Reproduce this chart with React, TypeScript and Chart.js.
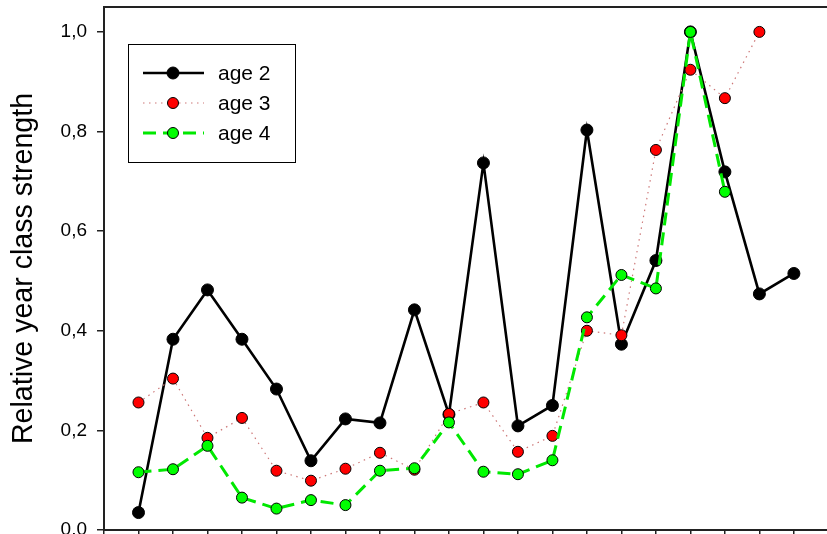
import React, { useEffect, useRef } from 'react';
import { Chart, registerables } from 'chart.js';

Chart.register(...registerables);

// ---- data ----
const xIndex = [1, 2, 3, 4, 5, 6, 7, 8, 9, 10, 11, 12, 13, 14, 15, 16, 17, 18, 19, 20];
const age2 = [0.035, 0.383, 0.482, 0.383, 0.283, 0.139, 0.223, 0.215, 0.442, 0.232, 0.737, 0.209, 0.25, 0.803, 0.373, 0.541, 1.0, 0.719, 0.474, 0.515];
const age3 = [0.256, 0.304, 0.185, 0.225, 0.119, 0.099, 0.123, 0.155, 0.121, 0.233, 0.256, 0.157, 0.189, 0.4, 0.391, 0.763, 0.924, 0.867, 1.0, null];
const age4 = [0.116, 0.122, 0.169, 0.065, 0.043, 0.06, 0.05, 0.119, 0.124, 0.216, 0.117, 0.112, 0.14, 0.427, 0.512, 0.485, 1.0, 0.679, null, null];
const seriesNames = ['age 2', 'age 3', 'age 4'];
const yTickValues = [0, 0.2, 0.4, 0.6, 0.8, 1.0];
const yTickLabels = ['0,0', '0,2', '0,4', '0,6', '0,8', '1,0'];
const xTickValues = [0, ...xIndex];
const yTitle = 'Relative year class strength';

const FONT = "'Liberation Sans', Arial, Helvetica, sans-serif";

function toPoints(vals: (number | null)[]) {
  return xIndex
    .map((x, i) => ({ x, y: vals[i] }))
    .filter((p) => p.y !== null && p.y !== undefined) as { x: number; y: number }[];
}

const framePlugin = {
  id: 'frameAndLegend',
  afterDraw(chart: any) {
    const { ctx, chartArea } = chart;
    ctx.save();
    // top frame line
    ctx.strokeStyle = '#222';
    ctx.lineWidth = 2;
    ctx.beginPath();
    ctx.moveTo(chartArea.left - 1, chartArea.top);
    ctx.lineTo(chartArea.right + 10, chartArea.top);
    ctx.stroke();

    // legend box
    const bx = 128.5, by = 44.5, bw = 167, bh = 118;
    ctx.fillStyle = '#fff';
    ctx.fillRect(bx, by, bw, bh);
    ctx.strokeStyle = '#000';
    ctx.lineWidth = 1;
    ctx.strokeRect(bx, by, bw, bh);

    const rows = [73, 103, 133];
    chart.data.datasets.forEach((ds: any, i: number) => {
      const y = rows[i];
      ctx.save();
      ctx.strokeStyle = ds.borderColor;
      ctx.lineWidth = ds.borderWidth;
      ctx.setLineDash(ds.borderDash || []);
      ctx.beginPath();
      ctx.moveTo(143, y);
      ctx.lineTo(204, y);
      ctx.stroke();
      ctx.restore();
      ctx.beginPath();
      ctx.arc(173, y, ds.pointRadius, 0, Math.PI * 2);
      ctx.fillStyle = ds.pointBackgroundColor;
      ctx.fill();
      ctx.lineWidth = ds.pointBorderWidth;
      ctx.strokeStyle = ds.pointBorderColor;
      ctx.stroke();
      ctx.fillStyle = '#000';
      ctx.font = `21px ${FONT}`;
      ctx.textAlign = 'left';
      ctx.textBaseline = 'middle';
      ctx.fillText(ds.label, 218, y + 1);
    });
    ctx.restore();
  },
};

export default function App() {
  const ref = useRef<HTMLCanvasElement | null>(null);

  useEffect(() => {
    if (!ref.current) return;
    const chart = new Chart(ref.current, {
      type: 'line',
      data: {
        datasets: [
          {
            label: seriesNames[0],
            data: toPoints(age2),
            borderColor: '#000',
            borderWidth: 2.6,
            pointRadius: 6,
            pointBackgroundColor: '#000',
            pointBorderColor: '#000',
            pointBorderWidth: 1,
            tension: 0,
            order: 3,
          },
          {
            label: seriesNames[1],
            data: toPoints(age3),
            borderColor: 'rgb(205,120,120)',
            borderWidth: 1.2,
            borderDash: [1.5, 4.5],
            pointRadius: 5.5,
            pointBackgroundColor: '#ff0000',
            pointBorderColor: '#000',
            pointBorderWidth: 1,
            tension: 0,
            order: 2,
          },
          {
            label: seriesNames[2],
            data: toPoints(age4),
            borderColor: '#00e800',
            borderWidth: 3,
            borderDash: [13, 7],
            pointRadius: 5.5,
            pointBackgroundColor: '#00ff00',
            pointBorderColor: '#000',
            pointBorderWidth: 1,
            tension: 0,
            order: 1,
          },
        ],
      },
      options: {
        responsive: false,
        animation: false,
        layout: { padding: { top: 7, left: 0, right: 0, bottom: 0 } },
        plugins: {
          legend: { display: false },
          tooltip: { enabled: false },
        },
        scales: {
          x: {
            type: 'linear',
            min: 0,
            max: 20.96,
            grid: { drawOnChartArea: false, tickLength: 7, color: '#222', lineWidth: 1.5 },
            border: { display: true, color: '#222', width: 2 },
            ticks: { display: false, stepSize: 1 },
            afterBuildTicks: (axis: any) => {
              axis.ticks = xTickValues.map((v) => ({ value: v }));
            },
            afterFit: (s: any) => {
              s.height = 4;
              s.paddingLeft = 0;
              s.paddingRight = 0;
            },
          },
          y: {
            type: 'linear',
            min: 0,
            max: 1.05,
            grid: { drawOnChartArea: false, tickLength: 7, color: '#222', lineWidth: 1.5 },
            border: { display: true, color: '#222', width: 2 },
            afterBuildTicks: (axis: any) => {
              axis.ticks = yTickValues.map((v) => ({ value: v }));
            },
            ticks: {
              padding: 10,
              color: '#000',
              font: { family: FONT, size: 19 },
              callback: (_v: any, i: number) => yTickLabels[i],
            },
            title: {
              display: true,
              text: yTitle,
              color: '#000',
              font: { family: FONT, size: 28.6 },
              padding: { top: 7, bottom: 0 },
            },
            afterFit: (s: any) => {
              s.width = 104;
              s.paddingTop = 0;
              s.paddingBottom = 0;
            },
          },
        },
      } as any,
      plugins: [framePlugin],
    });
    return () => chart.destroy();
  }, []);

  // The canvas is 7px larger than the window on the right and 3px at the bottom,
  // so the plot's right edge lies at the window edge and the x tick marks are cut off.
  return (
    <div
      style={{
        position: 'fixed',
        left: 0,
        top: 0,
        width: 827,
        height: 534,
        overflow: 'hidden',
        background: '#fff',
      }}
    >
      <canvas ref={ref} width={834} height={537} style={{ display: 'block' }} />
    </div>
  );
}
